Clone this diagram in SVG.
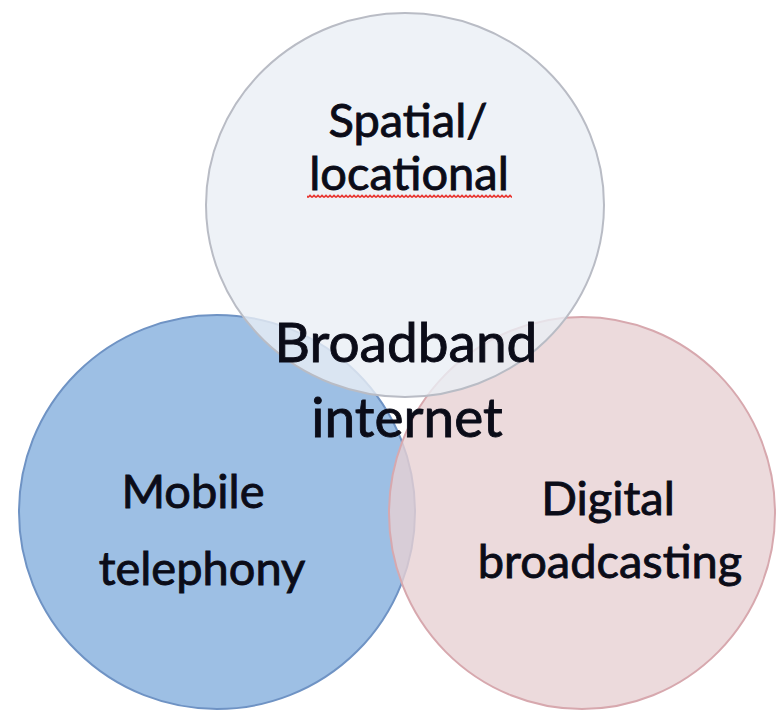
<svg xmlns="http://www.w3.org/2000/svg" width="779" height="715" viewBox="0 0 779 715">
  <style>
    .lbl { font-family: Lato, "Open Sans", "Liberation Sans", sans-serif; fill: #0b0c18; stroke: #0b0c18; stroke-width: 0.9; text-anchor: middle; }
    .sm { font-size: 47px; }
    .lg { font-size: 55px; }
    .c { stroke-width: 2; }
  </style>
  <defs>
    <pattern id="squiggle" x="0" y="194" width="4" height="5" patternUnits="userSpaceOnUse">
      <path d="M0,3.5 L2,1.5 L4,3.5" fill="none" stroke="#e8332e" stroke-width="1.6"/>
    </pattern>
  </defs>
  <rect width="779" height="715" fill="#ffffff"/>
  <g id="mobile-telephony">
    <ellipse class="c" cx="217" cy="512" rx="198" ry="197" fill="#84afdd" fill-opacity="0.8" stroke="#6f93c4"/>
  </g>
  <g id="digital-broadcasting">
    <ellipse class="c" cx="582" cy="513" rx="193" ry="196" fill="#e7d1d3" fill-opacity="0.8" stroke="#d7a8ae"/>
  </g>
  <g id="spatial-locational">
    <ellipse class="c" cx="405" cy="205" rx="199" ry="192" fill="#eaeff5" fill-opacity="0.8" stroke="#b9bcc5"/>
  </g>
  <g id="labels">
    <g id="label-spatial">
      <text class="lbl sm" x="408" y="137">Spatial/</text>
      <text class="lbl sm" x="409" y="190">locational</text>
      <rect x="307" y="194" width="205" height="5" fill="url(#squiggle)"/>
    </g>
    <g id="label-broadband">
      <text class="lbl lg" x="406" y="362">Broadband</text>
      <text class="lbl lg" x="407" y="437">internet</text>
    </g>
    <g id="label-mobile">
      <text class="lbl sm" x="193" y="508">Mobile</text>
      <text class="lbl sm" x="202" y="585">telephony</text>
    </g>
    <g id="label-digital">
      <text class="lbl sm" x="608" y="515">Digital</text>
      <text class="lbl sm" x="610" y="578">broadcasting</text>
    </g>
  </g>
  <g id="connectors"/>
</svg>
